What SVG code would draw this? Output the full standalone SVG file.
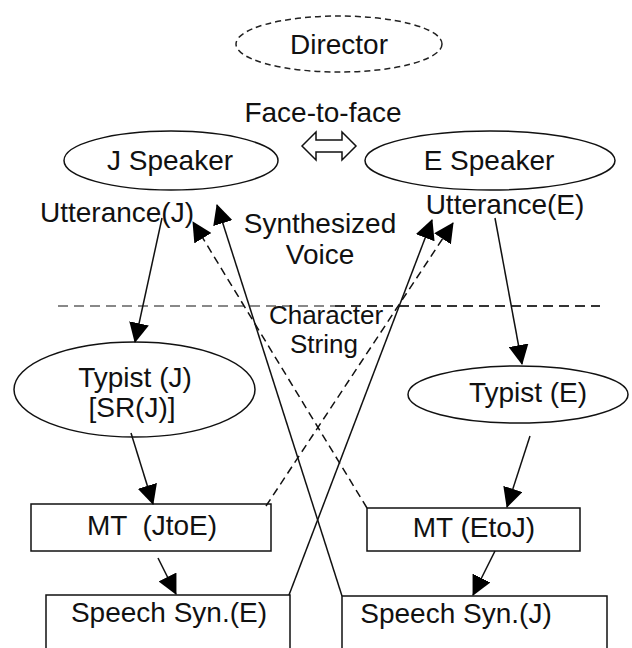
<svg xmlns="http://www.w3.org/2000/svg" width="632" height="648" viewBox="0 0 632 648">
  <style>
    text { font-family: "Liberation Sans", Arial, sans-serif; font-size: 28px; fill: #111; text-anchor: middle; }
    .small { font-size: 26px; }
    .node { fill: #fff; stroke: #111; stroke-width: 1.5; }
    .dashnode { fill: #fff; stroke: #222; stroke-width: 1.5; stroke-dasharray: 6 4; }
    .edge { fill: none; stroke: #111; stroke-width: 1.5; }
    .dashed { stroke-dasharray: 8 5; }
  </style>
  <defs>
    <marker id="arr" viewBox="0 0 20 20" refX="19" refY="10" markerWidth="20" markerHeight="20" markerUnits="userSpaceOnUse" orient="auto">
      <path d="M0,0 L20,10 L0,20 z" fill="#000"/>
    </marker>
  </defs>

  <rect width="632" height="648" fill="#fff"/>

  <g id="director">
    <ellipse class="dashnode" cx="339" cy="44" rx="103" ry="28"/>
    <text x="339" y="54">Director</text>
  </g>

  <g id="face-to-face">
    <text x="323" y="122">Face-to-face</text>
    <path d="M302,146 L316,132 L316,140 L342,140 L342,132 L356,146 L342,160 L342,152 L316,152 L316,160 Z" fill="#fff" stroke="#111" stroke-width="1.5"/>
  </g>

  <g id="j-speaker">
    <ellipse class="node" cx="171" cy="160.5" rx="107" ry="29.5"/>
    <text x="170" y="170">J Speaker</text>
  </g>

  <g id="e-speaker">
    <ellipse class="node" cx="490" cy="160.5" rx="125" ry="29.5"/>
    <text x="489" y="170">E Speaker</text>
  </g>

  <g id="labels">
    <text x="117" y="222">Utterance(J)</text>
    <text x="505" y="214">Utterance(E)</text>
    <text x="320" y="233">Synthesized</text>
    <text x="320" y="264">Voice</text>
  </g>

  <g id="divider">
    <line x1="58" y1="306" x2="335" y2="306" stroke="#888" stroke-width="2" stroke-dasharray="10 6"/>
    <line x1="335" y1="306" x2="600" y2="306" stroke="#333" stroke-width="2" stroke-dasharray="10 6"/>
  </g>

  <g id="typist-j">
    <ellipse class="node" cx="134.5" cy="389.5" rx="120.5" ry="47.5"/>
    <text x="135" y="387">Typist (J)</text>
    <text x="132" y="417">[SR(J)]</text>
  </g>

  <g id="typist-e">
    <ellipse class="node" cx="518" cy="394.5" rx="110" ry="28.5"/>
    <text x="528" y="402">Typist (E)</text>
  </g>

  <g id="mt-jtoe">
    <rect class="node" x="31" y="504" width="240" height="47"/>
    <text x="152" y="535" xml:space="preserve">MT  (JtoE)</text>
  </g>

  <g id="mt-etoj">
    <rect class="node" x="367" y="508" width="213" height="43"/>
    <text x="474" y="537">MT (EtoJ)</text>
  </g>

  <g id="speech-syn-e">
    <rect class="node" x="46" y="595" width="244" height="70"/>
    <text x="169" y="622">Speech Syn.(E)</text>
  </g>

  <g id="speech-syn-j">
    <rect class="node" x="342" y="596" width="265" height="70"/>
    <text x="456" y="623">Speech Syn.(J)</text>
  </g>

  <g id="connectors">
    <line class="edge" x1="162" y1="218" x2="135" y2="342" marker-end="url(#arr)"/>
    <line class="edge" x1="495" y1="218" x2="522" y2="364" marker-end="url(#arr)"/>
    <line class="edge" x1="131" y1="433" x2="153" y2="504" marker-end="url(#arr)"/>
    <line class="edge" x1="530" y1="436" x2="507" y2="507" marker-end="url(#arr)"/>
    <line class="edge" x1="158" y1="558" x2="176" y2="594" marker-end="url(#arr)"/>
    <line class="edge" x1="495" y1="551" x2="473" y2="595" marker-end="url(#arr)"/>
    <line class="edge" x1="289" y1="595" x2="432" y2="220" marker-end="url(#arr)"/>
    <line class="edge dashed" x1="266" y1="506" x2="453" y2="223" marker-end="url(#arr)"/>
    <line class="edge" x1="342" y1="596" x2="217" y2="205" marker-end="url(#arr)"/>
    <line class="edge dashed" x1="367" y1="508" x2="193" y2="222" marker-end="url(#arr)"/>
  </g>

  <g id="overlay-labels">
    <text class="small" x="326" y="324">Character</text>
    <text class="small" x="324" y="353">String</text>
  </g>
</svg>
